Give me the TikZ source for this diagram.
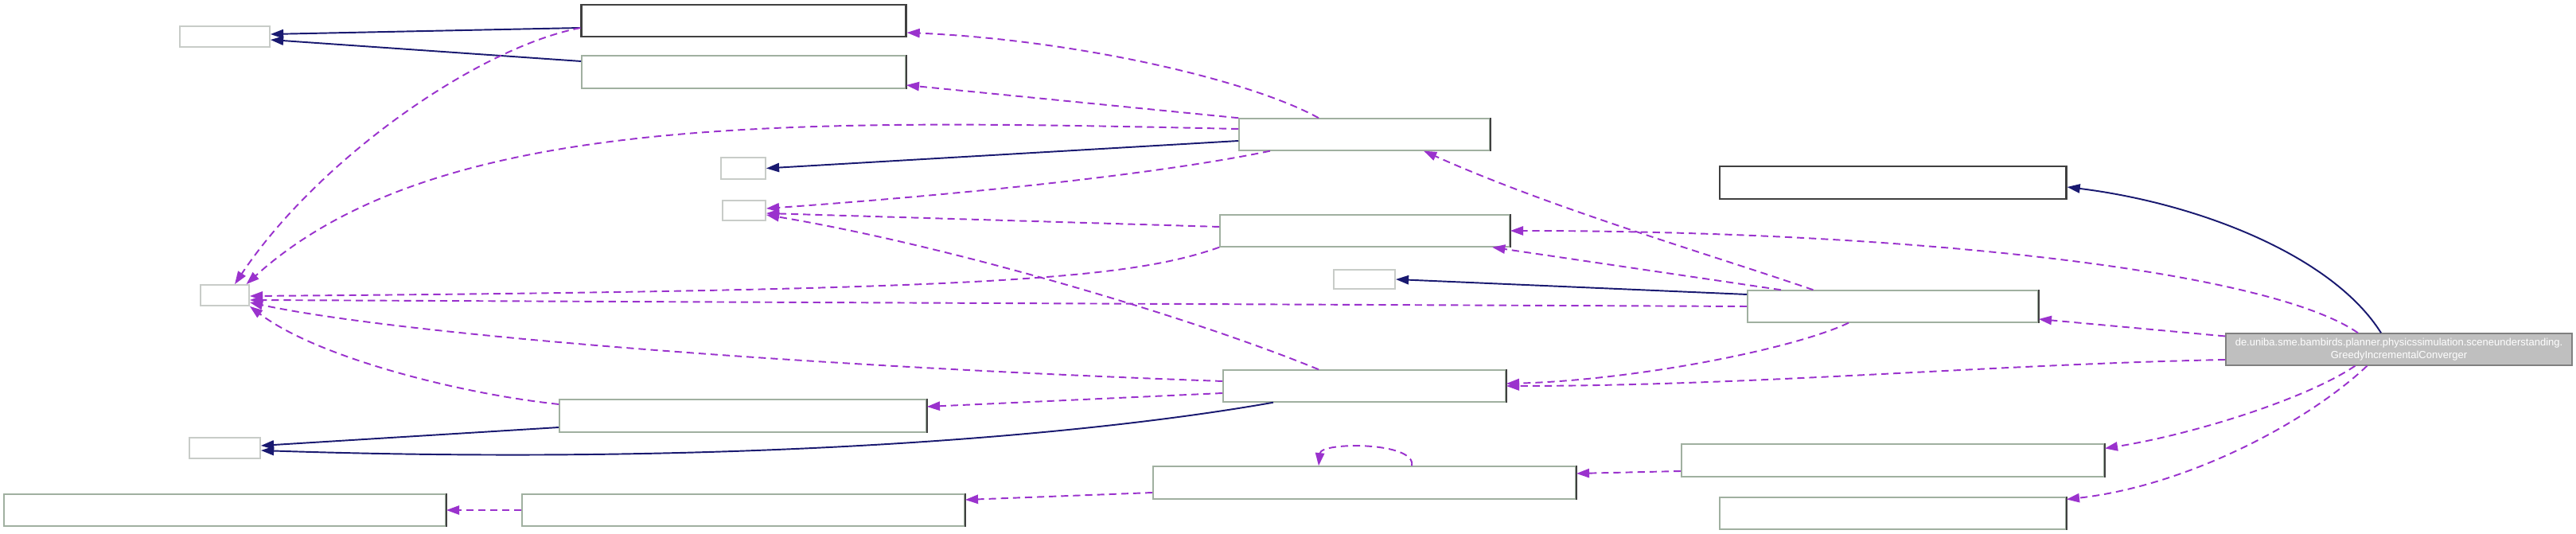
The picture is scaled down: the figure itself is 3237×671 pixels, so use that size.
\documentclass[tikz,border=0pt]{standalone}
\usepackage{fontspec}
\setmainfont{Liberation Sans}
\usepackage{xcolor}
\usepackage{tikz}
\usetikzlibrary{arrows.meta,calc}

\definecolor{navyline}{RGB}{25,25,112}
\definecolor{usesline}{RGB}{154,50,205}
\definecolor{boxline}{RGB}{160,176,160}
\definecolor{smallline}{RGB}{200,204,200}

\begin{document}
\begin{tikzpicture}[
    x=0.01cm, y=-0.01cm,
    cls/.style={rectangle, draw=boxline, fill=white, line width=0.4pt, inner sep=0pt,
        append after command={(\tikzlastnode.north east) edge[draw=black!75, line width=0.6pt] (\tikzlastnode.south east)}},
    docbox/.style={rectangle, draw=black!75, fill=white, line width=0.8pt, inner sep=0pt},
    smallbox/.style={rectangle, draw=smallline, fill=white, line width=0.5pt, inner sep=0pt},
    mainbox/.style={rectangle, draw=gray, fill=black!25, line width=0.4pt, inner sep=0pt, text=white,
        align=center, font=\fontsize{3.7pt}{4.6pt}\selectfont},
    inherit/.style={draw=navyline, line width=0.55pt, -{Triangle[length=4.6pt,width=3.2pt]}},
    uses/.style={draw=usesline, line width=0.55pt, dash pattern=on 2.6pt off 1.7pt, -{Triangle[length=4.6pt,width=3.2pt]}}
]
\useasboundingbox (0,0) rectangle (3237,671);

% Left column
\node[smallbox, minimum width=1.13cm, minimum height=0.26cm] (vecA) at (282.5,46) {};
\node[smallbox, minimum width=0.61cm, minimum height=0.26cm] (listE) at (282.5,371) {};
\node[smallbox, minimum width=0.89cm, minimum height=0.26cm] (vecF) at (282.5,563) {};
\node[cls, minimum width=5.55cm, minimum height=0.40cm] (chainA) at (282.5,641) {};

% Second column
\node[docbox, minimum width=4.07cm, minimum height=0.40cm] (bodyA) at (934.5,26) {};
\node[cls, minimum width=4.07cm, minimum height=0.41cm] (bodyB) at (934.5,90.5) {};
\node[smallbox, minimum width=0.56cm, minimum height=0.27cm] (vecB) at (934,211.5) {};
\node[smallbox, minimum width=0.54cm, minimum height=0.25cm] (listC) at (935,264.5) {};
\node[cls, minimum width=4.61cm, minimum height=0.41cm] (objL) at (933.5,522.5) {};
\node[cls, minimum width=5.56cm, minimum height=0.40cm] (chainB) at (934,641) {};

% Middle column
\node[cls, minimum width=3.15cm, minimum height=0.40cm] (world) at (1714.5,169) {};
\node[cls, minimum width=3.64cm, minimum height=0.40cm] (shape) at (1715,290) {};
\node[smallbox, minimum width=0.77cm, minimum height=0.24cm] (mapD) at (1714.5,351) {};
\node[cls, minimum width=3.55cm, minimum height=0.40cm] (sim) at (1714.5,485) {};
\node[cls, minimum width=5.31cm, minimum height=0.41cm] (loop) at (1714.5,606.5) {};

% Right column
\node[docbox, minimum width=4.35cm, minimum height=0.41cm] (parent) at (2378.5,229.5) {};
\node[cls, minimum width=3.65cm, minimum height=0.40cm] (scene) at (2378.5,385) {};
\node[cls, minimum width=5.31cm, minimum height=0.41cm] (helperA) at (2378.5,578.5) {};
\node[cls, minimum width=4.35cm, minimum height=0.40cm] (helperB) at (2378.5,645) {};

% Documented class
\node[mainbox, minimum width=4.35cm, minimum height=0.40cm] (converger) at (3014.5,439)
    {de.uniba.sme.bambirds.planner.physicssimulation.sceneunderstanding.\\GreedyIncrementalConverger};

% Inheritance
\draw[inherit] ([yshift=-0.09cm]bodyA.west) -- ([yshift=0.03cm]vecA.east);
\draw[inherit] ([yshift=0.135cm]bodyB.west) -- ([yshift=-0.04cm]vecA.east);
\draw[inherit] ([yshift=-0.08cm]world.west) -- (vecB.east);
\draw[inherit] ([yshift=0.15cm]scene.west) -- (mapD.east);
\draw[inherit] ([yshift=-0.145cm]objL.west) -- ([yshift=0.03cm]vecF.east);
\draw[inherit] ([xshift=-1.145cm]sim.south) .. controls (1350,550) and (900,585) .. ([yshift=-0.03cm]vecF.east);
\draw[inherit] ([xshift=-0.225cm]converger.north) .. controls (2930,320) and (2760,255) .. ([yshift=-0.055cm]parent.east);

% Usage - into the left column
\draw[uses] ([yshift=-0.09cm]bodyA.west) .. controls (600,60) and (400,200) .. ([xshift=0.125cm]listE.north);
\draw[uses] ([yshift=0.07cm]world.west) .. controls (1000,150) and (550,140) .. ([xshift=0.27cm]listE.north);
\draw[uses] (shape.south west) .. controls (1420,350) and (1250,365) .. ([yshift=-0.01cm]listE.east);
\draw[uses] (scene.west) -- ([yshift=-0.06cm]listE.east);
\draw[uses] ([yshift=0.06cm]sim.west) .. controls (1000,460) and (500,420) .. ([yshift=-0.09cm]listE.east);
\draw[uses] ([yshift=0.145cm]objL.west) .. controls (580,495) and (400,450) .. (listE.south east);
\draw[uses] (chainB.west) -- (chainA.east);

% Usage - into the second column
\draw[uses] ([xshift=-0.575cm]world.north) .. controls (1570,100) and (1350,50) .. ([yshift=-0.15cm]bodyA.east);
\draw[uses] (world.north west) -- ([yshift=-0.165cm]bodyB.east);
\draw[uses] ([xshift=-1.185cm]world.south) .. controls (1450,220) and (1200,245) .. ([yshift=0.025cm]listC.east);
\draw[uses] ([yshift=0.05cm]shape.west) -- ([yshift=-0.035cm]listC.east);
\draw[uses] ([xshift=-0.575cm]sim.north) .. controls (1500,400) and (1200,310) .. ([yshift=-0.055cm]listC.east);
\draw[uses] ([yshift=-0.09cm]sim.west) -- ([yshift=0.115cm]objL.east);
\draw[uses] ([yshift=-0.125cm]loop.west) -- ([yshift=0.13cm]chainB.east);

% Usage - into the middle column
\draw[uses] ([xshift=-1cm]scene.north) .. controls (2150,320) and (1950,262) .. ([xshift=0.745cm]world.south);
\draw[uses] ([xshift=-1.405cm]scene.north) -- ([xshift=1.6cm]shape.south);
\draw[uses] ([xshift=-0.515cm]converger.north) .. controls (2850,340) and (2400,290) .. (shape.east);
\draw[uses] ([yshift=-0.13cm]converger.west) .. controls (2500,458) and (2200,485) .. (sim.east);
\draw[uses] ([xshift=-0.555cm]scene.south) .. controls (2250,440) and (2050,478) .. ([yshift=0.03cm]sim.east);
\draw[uses] ([yshift=-0.135cm]helperA.west) -- ([yshift=0.115cm]loop.east);
\draw[uses] ([xshift=0.595cm]loop.north) .. controls (1780,555) and (1660,555) .. ([xshift=-0.575cm]loop.north);

% Usage - into the right column
\draw[uses] ([yshift=0.165cm]converger.west) -- ([yshift=-0.16cm]scene.east);
\draw[uses] ([xshift=-0.55cm]converger.south) .. controls (2900,500) and (2760,545) .. ([yshift=0.15cm]helperA.east);
\draw[uses] ([xshift=-0.4cm]converger.south) .. controls (2900,530) and (2750,610) .. ([yshift=0.175cm]helperB.east);

\end{tikzpicture}
\end{document}
